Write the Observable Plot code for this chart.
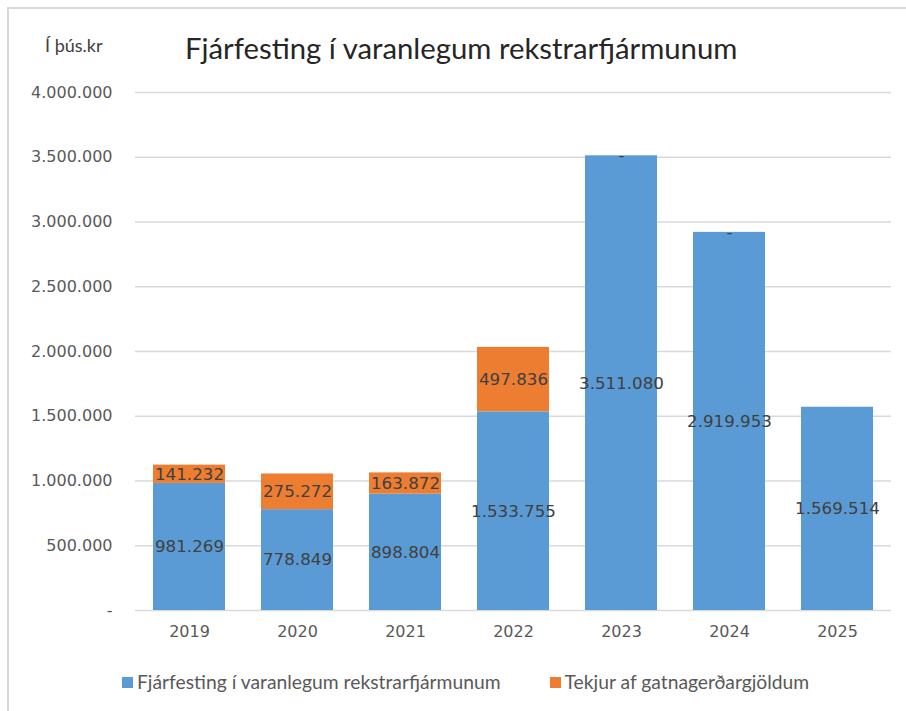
<!DOCTYPE html>
<html>
<head>
<meta charset="utf-8">
<script src="https://cdn.jsdelivr.net/npm/d3@7"></script>
<script src="https://cdn.jsdelivr.net/npm/@observablehq/plot@0.6"></script>
<style>
  html, body { margin: 0; padding: 0; background: #fff; }
  #wrap { position: relative; width: 906px; height: 711px; overflow: hidden; background: #fff; }
  #border { position: absolute; left: 7px; top: 7px; width: 920px; height: 720px; border-left: 2px solid #D9D9D9; border-top: 2px solid #D9D9D9; box-sizing: border-box; }
  #unit { position: absolute; left: 45px; top: 34px; font: 18px Lato, sans-serif; line-height: 22px; color: #404040; }
  #title { position: absolute; left: 185px; top: 30px; font: 29.3px Lato, sans-serif; line-height: 36px; color: #262626; white-space: nowrap; }
  #chart { position: absolute; left: 0; top: 0; }
  #legend { position: absolute; left: 122px; top: 670px; font: 19.3px Lato, sans-serif; line-height: 24px; color: #595959; display: flex; align-items: center; white-space: nowrap; }
  #legend .item { display: flex; align-items: center; margin-right: 49px; }
  #legend .sw { width: 11px; height: 11px; margin-right: 4px; }
</style>
</head>
<body>
<div id="wrap">
  <div id="border"></div>
  <div id="unit">Í þús.kr</div>
  <div id="title">Fjárfesting í varanlegum rekstrarfjármunum</div>
  <div id="chart"></div>
  <div id="legend"></div>
</div>
<script>
// ---- data ----
const years = ["2019", "2020", "2021", "2022", "2023", "2024", "2025"];
const seriesNames = ["Fjárfesting í varanlegum rekstrarfjármunum", "Tekjur af gatnagerðargjöldum"];
const seriesColors = ["#5B9BD5", "#ED7D31"];
const fjarfesting = [981269, 778849, 898804, 1533755, 3511080, 2919953, 1569514];
const tekjur = [141232, 275272, 163872, 497836, 0, 0, null];
const yTicks = [0, 500000, 1000000, 1500000, 2000000, 2500000, 3000000, 3500000, 4000000];

// ---- table ----
const rows = [];
years.forEach((yr, i) => {
  rows.push({year: yr, series: seriesNames[0], value: fjarfesting[i]});
  if (tekjur[i] !== null) rows.push({year: yr, series: seriesNames[1], value: tekjur[i]});
});

const isFmt = v => v === 0 ? "-" : d3.format(",")(v).replace(/,/g, ".");

const chart = Plot.plot({
  width: 906,
  height: 660,
  marginTop: 92,
  marginBottom: 50,
  marginLeft: 135,
  marginRight: 15,
  style: {fontFamily: "DejaVu Sans, sans-serif", fontSize: "16px", background: "transparent"},
  x: {domain: years, paddingInner: 1 / 3, paddingOuter: 1 / 6, round: false, label: null},
  y: {domain: [0, 4000000], label: null, axis: null},
  color: {domain: seriesNames, range: seriesColors},
  marks: [
    Plot.gridY(yTicks, {stroke: "#D9D9D9", strokeOpacity: 1, strokeWidth: 1.5}),
    Plot.barY(rows, {x: "year", y: "value", fill: "series", order: seriesNames}),
    Plot.text(rows, Plot.stackY({x: "year", y: "value", z: "series", order: seriesNames,
      text: d => isFmt(d.value), fill: "#404040", fontSize: 16.7})),
    Plot.text(yTicks, {y: d => d, text: isFmt, frameAnchor: "left", dx: -23, textAnchor: "end",
      fontSize: 16, fill: "#595959"}),
    Plot.axisX({tickSize: 0, tickPadding: 15, fontSize: 16, fill: "#595959"})
  ]
});
document.getElementById("chart").appendChild(chart);

// legend
const lg = document.getElementById("legend");
seriesNames.forEach((n, i) => {
  const it = document.createElement("div");
  it.className = "item";
  const sw = document.createElement("div");
  sw.className = "sw";
  sw.style.background = seriesColors[i];
  const t = document.createElement("span");
  t.textContent = n;
  it.appendChild(sw); it.appendChild(t);
  lg.appendChild(it);
});
</script>
</body>
</html>
